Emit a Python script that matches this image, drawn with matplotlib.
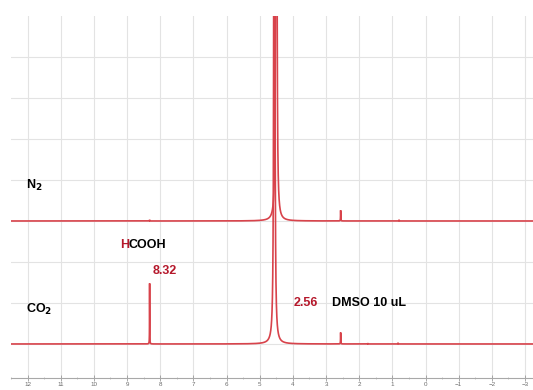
import numpy as np
import matplotlib
matplotlib.use("Agg")
import matplotlib.pyplot as plt

plt.rcParams['font.family'] = ['Liberation Sans', 'DejaVu Sans']

# Chemical-shift axis (ppm)
x_ticks = list(range(12, -4, -1))
x_limits = (12.48, -3.24)

# Peaks of each spectrum: position (ppm), height, half-width (ppm)
n2_pos = [4.50, 2.56, 8.32, 0.80]
n2_height = [60.0, 0.26, 0.03, 0.03]
n2_width = [0.008, 0.004, 0.004, 0.004]

co2_pos = [4.56, 8.32, 2.56, 1.74, 0.83]
co2_height = [60.0, 1.48, 0.28, 0.02, 0.03]
co2_width = [0.008, 0.003, 0.004, 0.004, 0.004]

# Vertical offsets of the stacked traces
n2_offset = 3.0
co2_offset = 0.0

red = '#d8434b'
dark_red = '#b5182b'


def spectrum(ppm, pos, height, width):
    y = np.zeros_like(ppm)
    for p, h, w in zip(pos, height, width):
        y += h * w ** 2 / ((ppm - p) ** 2 + w ** 2)
    return y


ppm = np.linspace(x_limits[0], x_limits[1], 60000)
n2_trace = spectrum(ppm, n2_pos, n2_height, n2_width) + n2_offset
co2_trace = spectrum(ppm, co2_pos, co2_height, co2_width) + co2_offset

fig = plt.figure(figsize=(5.33, 3.90), dpi=100)
ax = fig.add_axes([11 / 533, 12 / 390, 1 - 11 / 533, 362 / 390])

ax.plot(ppm, n2_trace, color=red, lw=1.2, solid_joinstyle='miter')
ax.plot(ppm, co2_trace, color=red, lw=1.2, solid_joinstyle='miter')

ax.set_xlim(*x_limits)
ax.set_ylim(-0.83, 8.0)

ax.set_xticks(x_ticks)
ax.set_xticklabels([str(t).replace('-', '\u2212') for t in x_ticks])
ax.set_xticks(np.arange(12.5, -3.5, -1.0), minor=True)
ax.set_yticks(range(0, 8))

ax.grid(True, which='major', color='#e3e3e3', lw=0.8)
ax.set_axisbelow(True)
ax.tick_params(axis='x', which='major', direction='inout', length=4, width=0.6,
               color='#9a9a9a', labelsize=4.5, labelcolor='#6a6a6a', pad=1)
ax.tick_params(axis='x', which='minor', direction='inout', length=2, width=0.5,
               color='#b0b0b0')
ax.tick_params(axis='y', left=False, labelleft=False)
for side in ('top', 'right', 'left'):
    ax.spines[side].set_visible(False)
ax.spines['bottom'].set_color('#a8a8a8')
ax.spines['bottom'].set_linewidth(0.8)

fs = 9

# Labels for the two spectra
ax.text(12.05, 3.87, r'N$_{\mathbf{2}}$', fontsize=fs, fontweight='bold',
        ha='left', va='center', color='black')
ax.text(12.05, 0.85, r'CO$_{\mathbf{2}}$', fontsize=fs, fontweight='bold',
        ha='left', va='center', color='black')

# HCOOH label with the observed proton in red
t = ax.text(9.22, 2.42, 'H', fontsize=fs, fontweight='bold', color=dark_red,
            ha='left', va='center')
ax.annotate('COOH', xycoords=t, xy=(1, 0.5), va='center', ha='left',
            fontsize=fs, fontweight='bold', color='black')

ax.text(8.22, 1.77, '8.32', fontsize=fs, fontweight='bold', color=dark_red,
        ha='left', va='center')
ax.text(3.98, 1.01, '2.56', fontsize=fs, fontweight='bold', color=dark_red,
        ha='left', va='center')
ax.text(2.83, 1.01, 'DMSO 10 uL', fontsize=fs, fontweight='bold',
        color='black', ha='left', va='center')

fig.savefig('out.png', dpi=100)
